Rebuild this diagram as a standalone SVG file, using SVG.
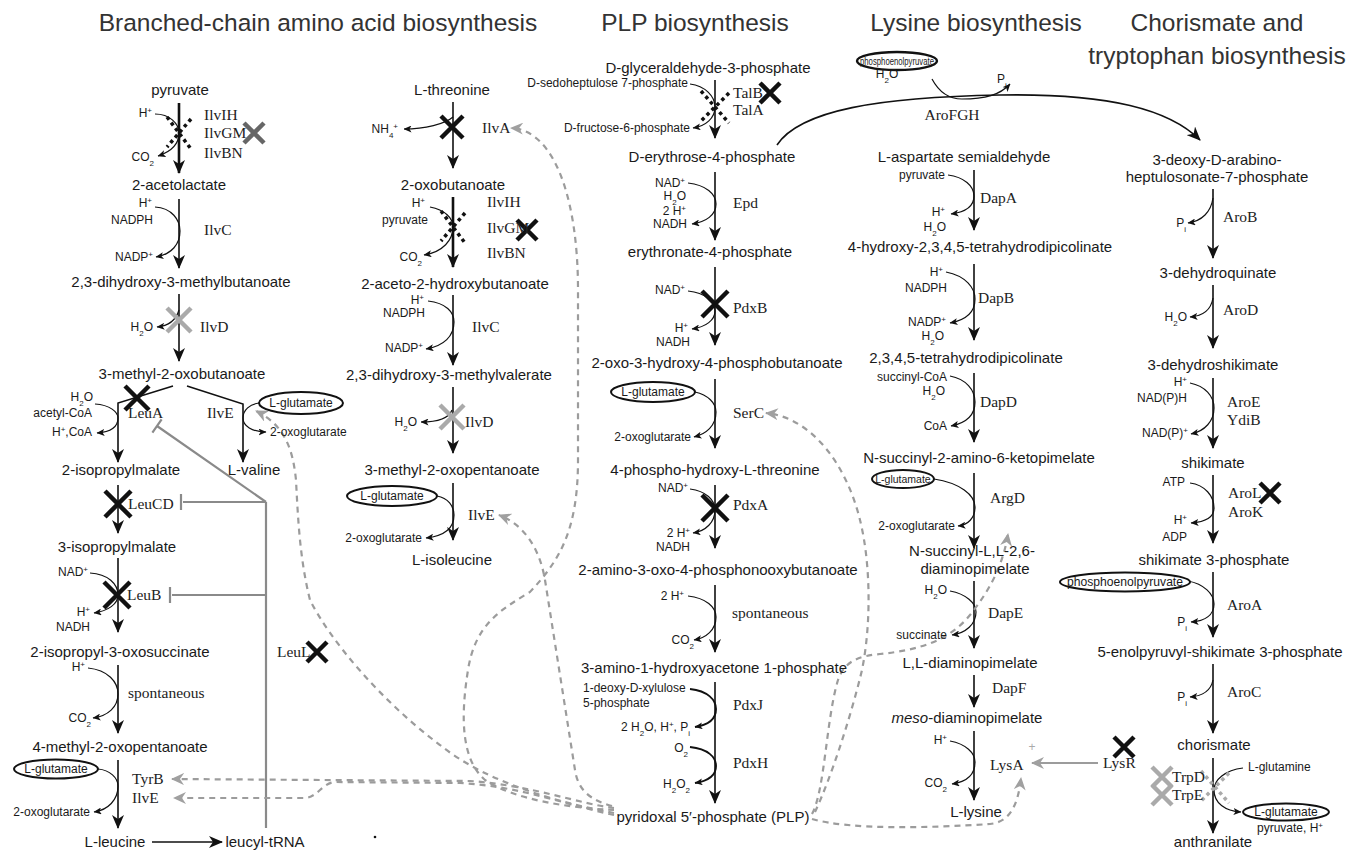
<svg xmlns="http://www.w3.org/2000/svg" width="1361" height="850" viewBox="0 0 1361 850">
<style>
text{font-family:"Liberation Sans",Arial,sans-serif;fill:#1a1a1a}
.t{font-size:24.5px;fill:#333;text-anchor:middle}
.m{font-size:15px;text-anchor:middle}
.s{font-size:12px;text-anchor:end}
.sl{font-size:12px}
.e{font-family:"Liberation Serif","Times New Roman",serif;font-size:15.5px;fill:#222}
.sp{font-size:8px;baseline-shift:super}
.sb{font-size:8px;baseline-shift:sub}
.ln{fill:none;stroke:#111;stroke-width:1.6;marker-end:url(#ah)}
.tk{stroke-width:2.6}
.cv{fill:none;stroke:#111;stroke-width:1.2;marker-end:url(#sa)}
.cvb{stroke-width:1.9}
.ds{fill:none;stroke:#9c9c9c;stroke-width:2.2;stroke-dasharray:6 5;marker-end:url(#ga)}
.inh{fill:none;stroke:#8a8a8a;stroke-width:2.2}
.xk{fill:none;stroke:#111;stroke-width:4.5}
.xg{fill:none;stroke:#666;stroke-width:4.5}
.xl{fill:none;stroke:#aaa;stroke-width:4.5}
.dx{fill:none;stroke:#111;stroke-width:3.5;stroke-dasharray:3.5 3.5}
.dxg{fill:none;stroke:#aaa;stroke-width:3.5;stroke-dasharray:3.5 3.5}
.el{fill:#fff;stroke:#111;stroke-width:2}
</style>
<defs>
<marker id="ah" viewBox="0 0 14 12" refX="13" refY="6" markerWidth="14" markerHeight="12" orient="auto" markerUnits="userSpaceOnUse"><path d="M0,0 L14,6 L0,12 L4,6 z" fill="#111"/></marker>
<marker id="sa" viewBox="0 0 8 7" refX="7.5" refY="3.5" markerWidth="8" markerHeight="7" orient="auto" markerUnits="userSpaceOnUse"><path d="M0,0 L8,3.5 L0,7 L2,3.5 z" fill="#111"/></marker>
<marker id="ga" viewBox="0 0 13 12" refX="12" refY="6" markerWidth="13" markerHeight="12" orient="auto" markerUnits="userSpaceOnUse"><path d="M0,0 L13,6 L0,12 L4,6 z" fill="#a0a0a0"/></marker>
</defs>
<rect width="1361" height="850" fill="#fff"/>

<g id="titles">
<text class="t" x="318" y="31">Branched-chain amino acid biosynthesis</text>
<text class="t" x="695" y="31">PLP biosynthesis</text>
<text class="t" x="976" y="31">Lysine biosynthesis</text>
<text class="t" x="1217" y="31">Chorismate and</text>
<text class="t" x="1217" y="64">tryptophan biosynthesis</text>
</g>

<g id="connectors">
<!-- column 1 -->
<path class="ln tk" d="M179,103 V173"/>
<path class="ln" d="M179,199 V268"/>
<path class="ln" d="M179,294 V361"/>
<path class="ln" d="M173,386 L118,403 V462"/>
<path class="ln" d="M187,386 L243,404 V462"/>
<path class="ln" d="M118,485 V533"/>
<path class="ln" d="M118,558 V632"/>
<path class="ln" d="M118,665 V733"/>
<path class="ln" d="M118,760 V828"/>
<path class="ln" d="M152,842 H222"/>
<path class="cv" d="M155,114 C170,114 179,124 179,133 C179,145 170,152 158,156"/>
<path class="cv" d="M155,207 C172,208 180,220 180,231 C180,244 172,254 156,257"/>
<path class="cv" d="M179,310 C176,320 168,326 157,327"/>
<path class="cv" d="M95,404 C110,405 118,412 118,418 C118,428 110,432 97,433"/>
<path class="cv" d="M259,403 C250,404 243,410 243,418 C243,426 252,432 266,432"/>
<path class="cv" d="M90,573 C108,574 118,584 118,595 C118,604 108,611 94,613"/>
<path class="cv" d="M88,668 C108,670 118,682 118,694 C118,707 108,716 93,718"/>
<path class="cv" d="M98,769 C110,770 118,778 118,786 C118,800 108,810 94,812"/>
<!-- column 2 -->
<path class="ln" d="M453,102 V168"/>
<path class="ln tk" d="M453,197 V267"/>
<path class="ln" d="M453,295 V365"/>
<path class="ln" d="M453,387 V453"/>
<path class="ln" d="M453,483 V540"/>
<path class="cv" d="M453,117 C445,124 425,129 404,129"/>
<path class="cv" d="M430,207 C445,210 453,218 453,227 C453,240 443,252 424,255"/>
<path class="cv" d="M428,301 C446,303 454,312 454,322 C454,336 444,346 426,349"/>
<path class="cv" d="M452,410 C449,418 437,422 421,422"/>
<path class="cv" d="M437,496 C448,498 454,506 454,515 C454,528 444,536 426,538"/>
<!-- PLP -->
<path class="ln" d="M715,80 V138"/>
<path class="ln" d="M715,172 V240"/>
<path class="ln" d="M715,267 V345"/>
<path class="ln" d="M715,379 V448"/>
<path class="ln" d="M715,485 V548"/>
<path class="ln" d="M715,585 V652"/>
<path class="ln" d="M715,682 V803"/>
<path class="cv" d="M690,84 C705,86 715,96 715,107 C715,118 706,126 693,128"/>
<path class="cv" d="M688,183 C706,185 716,194 716,204 C716,215 706,222 692,224"/>
<path class="cv" d="M688,291 C706,293 715,302 715,311 C715,320 706,327 692,329"/>
<path class="cv" d="M695,392 C708,395 716,403 716,412 C716,426 706,434 694,437"/>
<path class="cv" d="M690,489 C706,491 715,500 715,510 C715,522 706,531 693,533"/>
<path class="cv" d="M688,596 C706,598 716,607 716,617 C716,630 706,638 694,640"/>
<path class="cv cvb" d="M690,689 C708,691 716,700 716,709 C716,719 708,725 695,727"/>
<path class="cv cvb" d="M690,747 C708,749 716,757 716,766 C716,776 708,781 695,783"/>
<!-- AroFGH -->
<path class="ln" d="M777,145 C800,110 880,97 1000,95 C1110,93 1170,110 1200,140"/>
<path class="cv" d="M932,79 C940,94 950,99 962,99 C985,99 1000,95 1010,84"/>
<!-- lysine -->
<path class="ln" d="M974,170 V230"/>
<path class="ln" d="M974,264 V340"/>
<path class="ln" d="M974,373 V442"/>
<path class="ln" d="M974,473 V548"/>
<path class="ln" d="M974,581 V648"/>
<path class="ln" d="M974,675 V707"/>
<path class="ln" d="M974,731 V800"/>
<path class="cv" d="M948,175 C964,177 974,186 974,196 C974,206 966,212 951,214"/>
<path class="cv" d="M946,272 C966,276 975,288 975,299 C975,312 966,320 950,323"/>
<path class="cv" d="M950,376 C966,379 975,390 975,402 C975,415 966,423 951,426"/>
<path class="cv" d="M934,479 C960,483 975,495 975,507 C975,518 968,525 958,526"/>
<path class="cv" d="M950,591 C966,594 976,603 976,612 C976,624 966,633 952,635"/>
<path class="cv" d="M950,741 C966,744 975,753 975,762 C975,775 966,782 952,784"/>
<!-- chorismate -->
<path class="ln" d="M1213,189 V258"/>
<path class="ln" d="M1213,285 V348"/>
<path class="ln" d="M1213,378 V448"/>
<path class="ln" d="M1213,475 V543"/>
<path class="ln" d="M1213,572 V637"/>
<path class="ln" d="M1213,664 V733"/>
<path class="ln" d="M1213,758 V833"/>
<path class="cv" d="M1213,198 C1211,212 1202,221 1188,223"/>
<path class="cv" d="M1213,298 C1211,310 1203,316 1190,317"/>
<path class="cv" d="M1190,383 C1205,386 1214,396 1214,408 C1214,421 1205,431 1191,434"/>
<path class="cv" d="M1190,483 C1205,485 1214,496 1214,508 C1214,517 1205,522 1191,523"/>
<path class="cv" d="M1188,581 C1204,584 1214,594 1214,604 C1214,615 1205,621 1191,622"/>
<path class="cv" d="M1213,680 C1211,690 1203,696 1190,697"/>
<path class="cv" d="M1243,768 C1225,770 1214,780 1214,790 C1214,803 1225,811 1241,812"/>
<!-- inhibition -->
<path class="inh" d="M266,502 V828 M266,502 H183 M181,494 V510 M266,595 H172 M170,587 V603 M266,502 L157,426 M161.6,419.4 L152.4,432.6"/>
<path d="M1098,763 H1032" fill="none" stroke="#9c9c9c" stroke-width="2.2" marker-end="url(#ga)"/>
<!-- dashed PLP links -->
<path class="ds" d="M614,810 C570,808 515,800 485,780 C462,760 460,720 468,670 C475,625 500,610 530,592 C560,560 578,530 578,460 L578,290 C578,200 555,130 511,128"/>
<path class="ds" d="M612,806 C590,800 578,790 575,770 L545,580 C540,550 525,525 499,515"/>
<path class="ds" d="M614,813 C560,803 487,783 440,745 C380,700 330,640 310,600 C300,560 298,520 296,480 C293,450 285,425 256,411"/>
<path class="ds" d="M614,808 C580,804 530,785 470,781 L172,779"/>
<path class="ds" d="M614,815 C570,806 520,786 460,783 L335,782 C322,783 318,797 305,798 L174,798"/>
<path class="ds" d="M815,812 C830,780 850,720 862,670 C872,620 870,560 860,520 C848,470 815,418 766,413"/>
<path class="ds" d="M812,814 C825,790 826,720 838,680 C845,660 860,656 880,654 C920,650 950,640 970,615 C990,590 1003,565 1008,534"/>
<path class="ds" d="M812,819 C850,830 930,828 990,824 C1010,822 1018,805 1021,778"/>
</g>

<g id="marks">
<path class="dx" d="M167,117 L191,149 M191,119 L167,147"/>
<path class="dx" d="M441,211 L465,243 M465,213 L441,241"/>
<path class="dx" d="M701,91 L729,123 M729,93 L701,121"/>
<path class="dxg" d="M1201,771 L1229,803 M1229,773 L1201,801"/>
<path class="xg" d="M244,123 L264,143 M264,123 L244,143"/>
<path class="xl" d="M167,308 L191,332 M191,308 L167,332"/>
<path class="xk" d="M125,386 L149,410 M149,386 L125,410"/>
<path class="xk" d="M105,491 L131,517 M131,491 L105,517"/>
<path class="xk" d="M104,582 L130,608 M130,582 L104,608"/>
<path class="xk" d="M307,642 L327,662 M327,642 L307,662"/>
<path class="xk" d="M441,116 L463,138 M463,116 L441,138"/>
<path class="xk" d="M517,220 L537,240 M537,220 L517,240"/>
<path class="xl" d="M440,405 L464,429 M464,405 L440,429"/>
<path class="xk" d="M760,83 L780,103 M780,83 L760,103"/>
<path class="xk" d="M702,291 L728,317 M728,291 L702,317"/>
<path class="xk" d="M702,495 L728,521 M728,495 L702,521"/>
<path class="xk" d="M1260,483 L1280,503 M1280,483 L1260,503"/>
<path class="xk" d="M1114,737 L1134,757 M1134,737 L1114,757"/>
<path class="xl" d="M1152,767 L1172,787 M1172,767 L1152,787"/>
<path class="xl" d="M1152,785 L1172,805 M1172,785 L1152,805"/>
<text x="1032" y="751" font-size="12" text-anchor="middle" style="fill:#aaa">+</text>
<circle cx="375" cy="837" r="1.3" fill="#111"/>
</g>

<!-- column 1 nodes -->
<g id="n-pyruvate"><text class="m" x="180" y="95">pyruvate</text></g>
<g id="n-acetolactate"><text class="m" x="179" y="190">2-acetolactate</text></g>
<g id="n-dhmb"><text class="m" x="181" y="287">2,3-dihydroxy-3-methylbutanoate</text></g>
<g id="n-mob"><text class="m" x="182" y="379">3-methyl-2-oxobutanoate</text></g>
<g id="n-ipm2"><text class="m" x="121" y="475">2-isopropylmalate</text></g>
<g id="n-valine"><text class="m" x="254" y="475">L-valine</text></g>
<g id="n-ipm3"><text class="m" x="117" y="552">3-isopropylmalate</text></g>
<g id="n-ipos"><text class="m" x="120" y="657">2-isopropyl-3-oxosuccinate</text></g>
<g id="n-mop"><text class="m" x="120" y="752">4-methyl-2-oxopentanoate</text></g>
<g id="n-leucine"><text class="m" x="115" y="847">L-leucine</text></g>
<g id="n-leucyl"><text class="m" x="265" y="847">leucyl-tRNA</text></g>
<g id="c1-side">
<text class="s" x="152" y="117">H<tspan class="sp">+</tspan></text>
<text class="s" x="154" y="161">CO<tspan class="sb">2</tspan></text>
<text class="s" x="152" y="207">H<tspan class="sp">+</tspan></text>
<text class="s" x="153" y="224">NADPH</text>
<text class="s" x="153" y="261">NADP<tspan class="sp">+</tspan></text>
<text class="s" x="153" y="331">H<tspan class="sb">2</tspan>O</text>
<text class="s" x="93" y="401">H<tspan class="sb">2</tspan>O</text>
<text class="s" x="92" y="417">acetyl-CoA</text>
<text class="s" x="92" y="436">H<tspan class="sp">+</tspan>,CoA</text>
<text class="sl" x="270" y="436">2-oxoglutarate</text>
<text class="s" x="88" y="576">NAD<tspan class="sp">+</tspan></text>
<text class="s" x="90" y="616">H<tspan class="sp">+</tspan></text>
<text class="s" x="90" y="631">NADH</text>
<text class="s" x="85" y="671">H<tspan class="sp">+</tspan></text>
<text class="s" x="91" y="722">CO<tspan class="sb">2</tspan></text>
<text class="s" x="90" y="816">2-oxoglutarate</text>
</g>
<g id="c1-glu1"><ellipse class="el" cx="301" cy="403" rx="42" ry="11"/><text class="sl" x="301" y="407" text-anchor="middle">L-glutamate</text></g>
<g id="c1-glu2"><ellipse class="el" cx="56" cy="769" rx="42" ry="9.5"/><text class="sl" x="56" y="773" text-anchor="middle">L-glutamate</text></g>
<g id="c1-enz">
<text class="e" x="204" y="120">IlvIH</text>
<text class="e" x="204" y="138">IlvGM</text>
<text class="e" x="204" y="158">IlvBN</text>
<text class="e" x="204" y="235">IlvC</text>
<text class="e" x="200" y="332">IlvD</text>
<text class="e" x="128" y="418">LeuA</text>
<text class="e" x="207" y="418">IlvE</text>
<text class="e" x="128" y="509">LeuCD</text>
<text class="e" x="127" y="600">LeuB</text>
<text class="e" x="128" y="698">spontaneous</text>
<text class="e" x="132" y="784">TyrB</text>
<text class="e" x="132" y="803">IlvE</text>
<text class="e" x="277" y="657">LeuL</text>
</g>

<!-- column 2 nodes -->
<g id="n-threonine"><text class="m" x="452" y="95">L-threonine</text></g>
<g id="n-oxobutanoate"><text class="m" x="453" y="190">2-oxobutanoate</text></g>
<g id="n-ahb"><text class="m" x="455" y="289">2-aceto-2-hydroxybutanoate</text></g>
<g id="n-dhmv"><text class="m" x="449" y="380">2,3-dihydroxy-3-methylvalerate</text></g>
<g id="n-mop2"><text class="m" x="452" y="475">3-methyl-2-oxopentanoate</text></g>
<g id="n-isoleucine"><text class="m" x="452" y="565">L-isoleucine</text></g>
<g id="c2-side">
<text class="s" x="398" y="133">NH<tspan class="sb">4</tspan><tspan class="sp">+</tspan></text>
<text class="s" x="425" y="207">H<tspan class="sp">+</tspan></text>
<text class="s" x="428" y="224">pyruvate</text>
<text class="s" x="422" y="261">CO<tspan class="sb">2</tspan></text>
<text class="s" x="424" y="304">H<tspan class="sp">+</tspan></text>
<text class="s" x="425" y="317">NADPH</text>
<text class="s" x="423" y="352">NADP<tspan class="sp">+</tspan></text>
<text class="s" x="417" y="426">H<tspan class="sb">2</tspan>O</text>
<text class="s" x="422" y="542">2-oxoglutarate</text>
</g>
<g id="c2-glu"><ellipse class="el" cx="392" cy="496" rx="45" ry="10"/><text class="sl" x="392" y="500" text-anchor="middle">L-glutamate</text></g>
<g id="c2-enz">
<text class="e" x="482" y="133">IlvA</text>
<text class="e" x="487" y="207">IlvIH</text>
<text class="e" x="487" y="233">IlvGM</text>
<text class="e" x="487" y="258">IlvBN</text>
<text class="e" x="472" y="332">IlvC</text>
<text class="e" x="465" y="427">IlvD</text>
<text class="e" x="468" y="520">IlvE</text>
</g>

<!-- PLP nodes -->
<g id="n-g3p"><text class="m" x="708" y="73">D-glyceraldehyde-3-phosphate</text></g>
<g id="n-e4p"><text class="m" x="712" y="162">D-erythrose-4-phosphate</text></g>
<g id="n-er4p"><text class="m" x="710" y="257">erythronate-4-phosphate</text></g>
<g id="n-ohpb"><text class="m" x="717" y="368">2-oxo-3-hydroxy-4-phosphobutanoate</text></g>
<g id="n-pht"><text class="m" x="715" y="475">4-phospho-hydroxy-L-threonine</text></g>
<g id="n-aopb"><text class="m" x="718" y="575">2-amino-3-oxo-4-phosphonooxybutanoate</text></g>
<g id="n-ahap"><text class="m" x="714" y="673">3-amino-1-hydroxyacetone 1-phosphate</text></g>
<g id="n-plp"><text class="m" x="713" y="822">pyridoxal 5′-phosphate (PLP)</text></g>
<g id="plp-side">
<text class="s" x="688" y="87">D-sedoheptulose 7-phosphate</text>
<text class="s" x="690" y="132">D-fructose-6-phosphate</text>
<text class="s" x="685" y="187">NAD<tspan class="sp">+</tspan></text>
<text class="s" x="686" y="200">H<tspan class="sb">2</tspan>O</text>
<text class="s" x="686" y="215">2 H<tspan class="sp">+</tspan></text>
<text class="s" x="687" y="228">NADH</text>
<text class="s" x="685" y="294">NAD<tspan class="sp">+</tspan></text>
<text class="s" x="688" y="332">H<tspan class="sp">+</tspan></text>
<text class="s" x="690" y="346">NADH</text>
<text class="s" x="691" y="441">2-oxoglutarate</text>
<text class="s" x="688" y="492">NAD<tspan class="sp">+</tspan></text>
<text class="s" x="690" y="537">2 H<tspan class="sp">+</tspan></text>
<text class="s" x="690" y="551">NADH</text>
<text class="s" x="684" y="600">2 H<tspan class="sp">+</tspan></text>
<text class="s" x="694" y="644">CO<tspan class="sb">2</tspan></text>
<text class="sl" x="583" y="692">1-deoxy-D-xylulose</text>
<text class="sl" x="583" y="707">5-phosphate</text>
<text class="s" x="690" y="731">2 H<tspan class="sb">2</tspan>O, H<tspan class="sp">+</tspan>, P<tspan class="sb">i</tspan></text>
<text class="s" x="688" y="752">O<tspan class="sb">2</tspan></text>
<text class="s" x="690" y="788">H<tspan class="sb">2</tspan>O<tspan class="sb">2</tspan></text>
</g>
<g id="plp-glu"><ellipse class="el" cx="653" cy="392" rx="42" ry="10"/><text class="sl" x="653" y="396" text-anchor="middle">L-glutamate</text></g>
<g id="plp-enz">
<text class="e" x="733" y="98">TalB</text>
<text class="e" x="733" y="115">TalA</text>
<text class="e" x="733" y="208">Epd</text>
<text class="e" x="733" y="313">PdxB</text>
<text class="e" x="733" y="418">SerC</text>
<text class="e" x="733" y="510">PdxA</text>
<text class="e" x="732" y="618">spontaneous</text>
<text class="e" x="733" y="710">PdxJ</text>
<text class="e" x="733" y="768">PdxH</text>
</g>

<!-- AroFGH -->
<g id="pep1"><ellipse cx="897" cy="61" rx="40" ry="9" fill="#fff" stroke="#111" stroke-width="2.4"/><text x="897" y="64.5" font-size="10" text-anchor="middle" textLength="74" lengthAdjust="spacingAndGlyphs">phosphoenolpyruvate</text></g>
<g id="arofgh">
<text class="sl" x="887" y="78" text-anchor="middle">H<tspan class="sb">2</tspan>O</text>
<text class="sl" x="1002" y="83" text-anchor="middle">P<tspan class="sb">i</tspan></text>
<text class="e" x="952" y="120" text-anchor="middle">AroFGH</text>
</g>

<!-- lysine nodes -->
<g id="n-asa"><text class="m" x="964" y="162">L-aspartate semialdehyde</text></g>
<g id="n-htpa"><text class="m" x="980" y="252">4-hydroxy-2,3,4,5-tetrahydrodipicolinate</text></g>
<g id="n-thdp"><text class="m" x="966" y="363">2,3,4,5-tetrahydrodipicolinate</text></g>
<g id="n-sak"><text class="m" x="979" y="463">N-succinyl-2-amino-6-ketopimelate</text></g>
<g id="n-sdap"><text class="m" x="972" y="556">N-succinyl-L,L-2,6-</text><text class="m" x="975" y="574">diaminopimelate</text></g>
<g id="n-lldap"><text class="m" x="970" y="668">L,L-diaminopimelate</text></g>
<g id="n-mdap"><text class="m" x="967" y="723"><tspan font-style="italic">meso</tspan>-diaminopimelate</text></g>
<g id="n-lysine"><text class="m" x="976" y="817">L-lysine</text></g>
<g id="lys-side">
<text class="s" x="945" y="179">pyruvate</text>
<text class="s" x="945" y="216">H<tspan class="sp">+</tspan></text>
<text class="s" x="946" y="231">H<tspan class="sb">2</tspan>O</text>
<text class="s" x="943" y="276">H<tspan class="sp">+</tspan></text>
<text class="s" x="947" y="292">NADPH</text>
<text class="s" x="946" y="326">NADP<tspan class="sp">+</tspan></text>
<text class="s" x="944" y="340">H<tspan class="sb">2</tspan>O</text>
<text class="s" x="947" y="381">succinyl-CoA</text>
<text class="s" x="945" y="395">H<tspan class="sb">2</tspan>O</text>
<text class="s" x="947" y="430">CoA</text>
<text class="s" x="955" y="530">2-oxoglutarate</text>
<text class="s" x="947" y="594">H<tspan class="sb">2</tspan>O</text>
<text class="s" x="947" y="639">succinate</text>
<text class="s" x="947" y="744">H<tspan class="sp">+</tspan></text>
<text class="s" x="947" y="787">CO<tspan class="sb">2</tspan></text>
</g>
<g id="lys-glu"><ellipse class="el" cx="903" cy="479" rx="31" ry="9"/><text x="903" y="483" font-size="10.5" text-anchor="middle">L-glutamate</text></g>
<g id="lys-enz">
<text class="e" x="980" y="203">DapA</text>
<text class="e" x="978" y="303">DapB</text>
<text class="e" x="980" y="407">DapD</text>
<text class="e" x="990" y="503">ArgD</text>
<text class="e" x="988" y="618">DapE</text>
<text class="e" x="992" y="693">DapF</text>
<text class="e" x="990" y="770">LysA</text>
<text class="e" x="1103" y="768">LysR</text>
</g>

<!-- chorismate nodes -->
<g id="n-dahp"><text class="m" x="1217" y="165">3-deoxy-D-arabino-</text><text class="m" x="1217" y="182">heptulosonate-7-phosphate</text></g>
<g id="n-dhq"><text class="m" x="1218" y="278">3-dehydroquinate</text></g>
<g id="n-dhs"><text class="m" x="1213" y="370">3-dehydroshikimate</text></g>
<g id="n-shik"><text class="m" x="1213" y="468">shikimate</text></g>
<g id="n-s3p"><text class="m" x="1214" y="565">shikimate 3-phosphate</text></g>
<g id="n-epsp"><text class="m" x="1220" y="657">5-enolpyruvyl-shikimate 3-phosphate</text></g>
<g id="n-chor"><text class="m" x="1214" y="750">chorismate</text></g>
<g id="n-anth"><text class="m" x="1213" y="847">anthranilate</text></g>
<g id="cho-side">
<text class="s" x="1186" y="227">P<tspan class="sb">i</tspan></text>
<text class="s" x="1187" y="321">H<tspan class="sb">2</tspan>O</text>
<text class="s" x="1187" y="386">H<tspan class="sp">+</tspan></text>
<text class="s" x="1187" y="402">NAD(P)H</text>
<text class="s" x="1188" y="437">NAD(P)<tspan class="sp">+</tspan></text>
<text class="s" x="1185" y="486">ATP</text>
<text class="s" x="1187" y="524">H<tspan class="sp">+</tspan></text>
<text class="s" x="1187" y="541">ADP</text>
<text class="s" x="1187" y="626">P<tspan class="sb">i</tspan></text>
<text class="s" x="1187" y="701">P<tspan class="sb">i</tspan></text>
<text class="sl" x="1248" y="771">L-glutamine</text>
<text class="sl" x="1290" y="832" text-anchor="middle">pyruvate, H<tspan class="sp">+</tspan></text>
</g>
<g id="pep2"><ellipse class="el" cx="1125" cy="582" rx="65" ry="9.5"/><text x="1125" y="586" font-size="12" text-anchor="middle" textLength="116" lengthAdjust="spacingAndGlyphs">phosphoenolpyruvate</text></g>
<g id="cho-glu"><ellipse class="el" cx="1286" cy="812" rx="43" ry="8.5"/><text class="sl" x="1286" y="816" text-anchor="middle">L-glutamate</text></g>
<g id="cho-enz">
<text class="e" x="1223" y="222">AroB</text>
<text class="e" x="1223" y="315">AroD</text>
<text class="e" x="1227" y="407">AroE</text>
<text class="e" x="1227" y="425">YdiB</text>
<text class="e" x="1228" y="498">AroL</text>
<text class="e" x="1228" y="517">AroK</text>
<text class="e" x="1227" y="610">AroA</text>
<text class="e" x="1227" y="697">AroC</text>
<text class="e" x="1172" y="782">TrpD</text>
<text class="e" x="1172" y="800">TrpE</text>
</g>
</svg>
